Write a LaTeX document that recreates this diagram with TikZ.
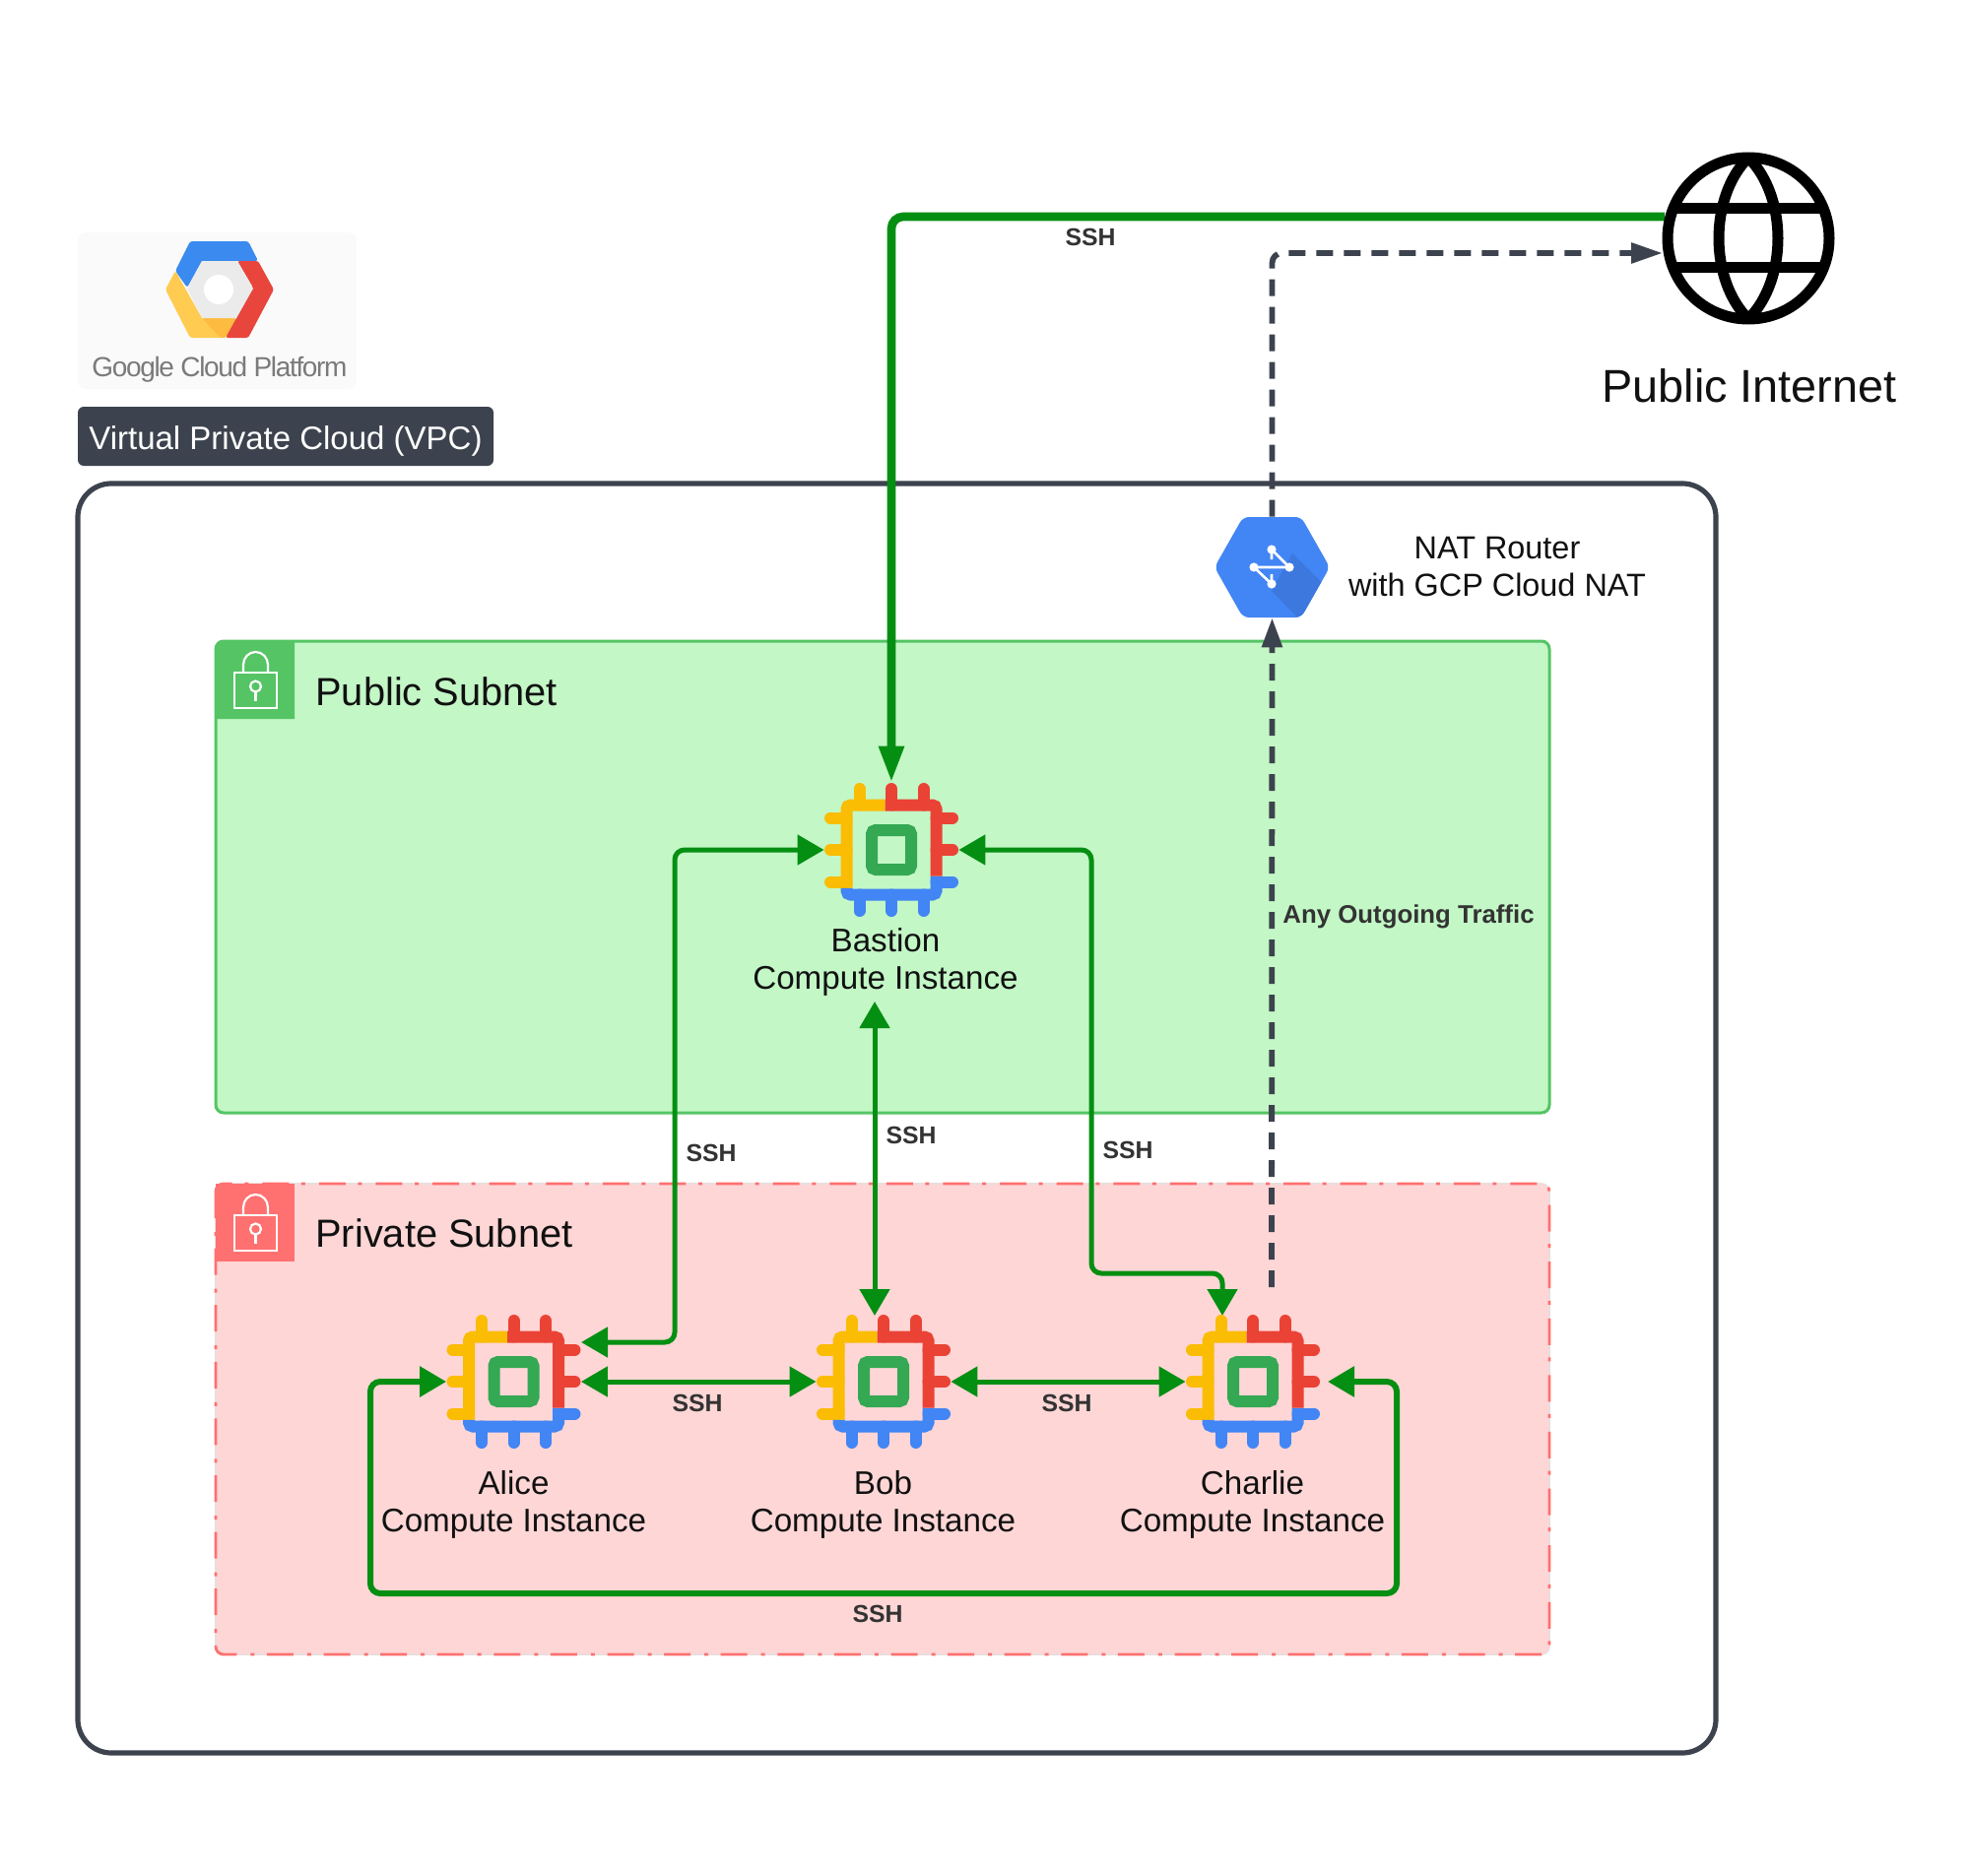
\documentclass[tikz,border=0pt]{standalone}
\usepackage{fontspec}
\setmainfont{Liberation Sans}
\usetikzlibrary{arrows.meta,calc}
\definecolor{sshgreen}{HTML}{048F12}
\definecolor{slate}{HTML}{3D434E}
\definecolor{pubfill}{HTML}{C3F7C6}
\definecolor{publine}{HTML}{55C465}
\definecolor{privfill}{HTML}{FFD6D6}
\definecolor{privline}{HTML}{FF7070}
\definecolor{privgap}{HTML}{EBDCDC}
\definecolor{cy}{HTML}{FBBC04}
\definecolor{cr}{HTML}{EA4335}
\definecolor{cb}{HTML}{4285F4}
\definecolor{cg}{HTML}{34A853}
\definecolor{ink}{HTML}{111111}
\definecolor{lab}{HTML}{333333}
\definecolor{lgblue}{HTML}{3B8AF0}
\definecolor{lgyellow}{HTML}{FFCB50}
\definecolor{lgshade}{HTML}{FDBB40}
\definecolor{lgred}{HTML}{E8453C}
\definecolor{natshade}{HTML}{3C78DE}
\tikzset{
  x=0.5pt,y=-0.5pt,
  vpcbox/.style={draw=slate,line width=2.6pt,rounded corners=17pt,fill=white},
  pubbox/.style={draw=publine,line width=1.5pt,rounded corners=4pt,fill=pubfill},
  privbase/.style={draw=privgap,line width=0.8pt,rounded corners=4pt,fill=privfill},
  privbox/.style={draw=privline,line width=1.4pt,rounded corners=4pt,dash pattern=on 13.5pt off 7pt on 2pt off 6.3pt},
  chipnode/.style={inner sep=0pt,minimum size=68pt,draw=none},
  txt/.style={inner sep=0pt,text=ink,align=center,font=\fontsize{16.6}{19}\selectfont},
  head/.style={inner sep=0pt,text=ink,anchor=west,font=\fontsize{19.9}{24}\selectfont},
  ssh/.style={inner sep=0pt,text=lab,font=\fontsize{12.4}{15}\selectfont\bfseries},
  link/.style={draw=sshgreen,line width=2.5pt,rounded corners=5pt,line join=round,
    {Triangle[length=13.5pt,width=15pt]}-{Triangle[length=13.5pt,width=15pt]}},
  trunk/.style={draw=sshgreen,line width=4.3pt,rounded corners=6pt,-{Triangle[length=18.5pt,width=12pt]}},
  loopl/.style={link,line width=3pt},
  outgoing/.style={draw=slate,line width=2.9pt,rounded corners=5pt,dash pattern=on 8.5pt off 5.5pt,
    -{Triangle[length=15pt,width=10pt]}},
  pin/.style={line width=6pt,line cap=round},
  band/.style={line width=6pt,rounded corners=2pt},
  lockline/.style={draw=white,line width=1.1pt},
}
\newcommand{\chipicon}[2]{%
 \begin{scope}[shift={(#1,#2)}]
  \draw[pin,cy] (-32.5,-45.5)--(-32.5,-62) (-45.5,-32.5)--(-62,-32.5) (-45.5,0)--(-62,0) (-45.5,32.5)--(-62,32.5);
  \draw[pin,cr] (0,-45.5)--(0,-62) (32.5,-45.5)--(32.5,-62) (45.5,-32.5)--(62,-32.5) (45.5,0)--(62,0);
  \draw[pin,cb] (45.5,32.5)--(62,32.5) (-32.5,45.5)--(-32.5,62) (0,45.5)--(0,62) (32.5,45.5)--(32.5,62);
  \draw[band,cb] (45.5,26.5)--(45.5,45.5)--(-45.5,45.5)--(-45.5,38.5);
  \draw[band,cy] (-6.5,-45.5)--(-45.5,-45.5)--(-45.5,38.5);
  \draw[band,cr] (-6.5,-45.5)--(45.5,-45.5)--(45.5,26.5);
  \draw[band,cg] (-20,-20) rectangle (20,20);
 \end{scope}}
\newcommand{\lockicon}[1]{%
 \begin{scope}[shift={(0,#1)}]
  \draw[lockline] (238,683) rectangle (281,719);
  \draw[lockline] (247,683)--(247,675) arc[start angle=180,end angle=0,x radius=12.5,y radius=-13]--(272,683);
  \draw[lockline] (259.5,697) circle[radius=5.5];
  \draw[lockline] (259.5,702.5)--(259.5,712);
 \end{scope}}
\begin{document}
\begin{tikzpicture}
\useasboundingbox[fill=white] (0,0) rectangle (1999,1905);
% logo
\fill[black!2,rounded corners=4pt] (79,236) rectangle (362,395);
\begin{scope}[rounded corners=1.2pt]
\fill[lgblue] (193,245)--(252,245)--(262,265)--(205,265)--(190,292)--(178,275)--cycle;
\fill[lgyellow] (178,275)--(205,323)--(240,323)--(229,343)--(193,343)--(168,294)--cycle;
\fill[lgshade] (205,323)--(240,323)--(229,343)--(224,343)--cycle;
\fill[lgred] (241,265)--(262,265)--(278,294)--(252,343)--(229,343)--(257,292)--cycle;
\end{scope}
\fill[black!8] (205,265)--(241,265)--(257,293)--(240,323)--(205,323)--(190,293)--cycle;
\fill[white] (222,294) circle[radius=15];
\node[inner sep=0pt,text=black!52,font=\fontsize{14}{16}\selectfont\addfontfeature{LetterSpace=-4.8}] (logotext) at (223,375) {Google Cloud Platform};
% tag
\node[inner sep=0pt,minimum width=211pt,minimum height=30pt,fill=slate,rounded corners=3pt,text=white,font=\fontsize{16.5}{19}\selectfont] (vpctag) at (290,443) {\raisebox{-6.7pt}[0pt][0pt]{Virtual Private Cloud (VPC)}};
% boxes
\draw[vpcbox] (79,491) rectangle (1742,1780);
\draw[pubbox] (219,651) rectangle (1573,1130);
\fill[publine] (219,730) [rounded corners=3pt] -- (219,651) [sharp corners] -- (299,651) -- (299,730) -- cycle;
\draw[privbase] (219,1202) rectangle (1573,1680);
\draw[privbox] (219,1202) rectangle (1573,1680);
\fill[privline] (219,1202) rectangle (299,1281);
\lockicon{0}
\lockicon{551}
\node[head] (pubtitle) at (320,702) {Public Subnet};
\node[head] (privtitle) at (320,1252.5) {Private Subnet};
% icon holders
\node[chipnode] (bastion) at (905,863) {};
\node[chipnode] (alice) at (521.5,1403) {};
\node[chipnode] (bob) at (897,1403) {};
\node[chipnode] (charlie) at (1272,1403) {};
\node[inner sep=0pt,minimum width=56.5pt,minimum height=51pt] (nat) at (1291.5,576) {};
\node[inner sep=0pt,minimum size=87.5pt,circle] (globe) at (1775,242) {};
\coordinate (gOut) at (1690,220);
\coordinate (gIn) at (1688,257);
\coordinate (cOut) at (1291,1307);
\coordinate (aIn) at (590,1363);
\coordinate (lTurn) at (685,1363);
\coordinate (rA) at (1108,863);
\coordinate (rB) at (1108,1293);
\coordinate (cIn) at (1241,1293);
\coordinate (cTop) at (1241,1336);
\coordinate (midT) at (888,1017);
\coordinate (midB) at (888,1336);
\coordinate (loopA) at (376,1403);
\coordinate (loopB) at (376,1618);
\coordinate (loopC) at (1418,1618);
\coordinate (loopD) at (1418,1403);
\coordinate (charlieR) at (1348,1403);
% connectors
\draw[outgoing] (cOut) -- (nat.south);
\draw[outgoing,-{Triangle[length=16pt,width=10pt]}] (nat.north) |- (gIn);
\draw[trunk] (gOut) -| (bastion.north);
\draw[link] (aIn) -- (lTurn) |- (bastion.west);
\draw[link] (bastion.east) -- (rA) -- (rB) -- (cIn) -- (cTop);
\draw[link] (midT) -- (midB);
\draw[link] (alice.east) -- (bob.west);
\draw[link] (bob.east) -- (charlie.west);
\draw[loopl] (alice.west) -- (loopA) -- (loopB) -- (loopC) -- (loopD) -- (charlieR);
% chips
\chipicon{905}{863}
\chipicon{521.5}{1403}
\chipicon{897}{1403}
\chipicon{1272}{1403}
% NAT hexagon
\begin{scope}
 \path[clip,rounded corners=3pt] (1262,525)--(1321,525)--(1350,576)--(1321,627)--(1262,627)--(1233,576)--cycle;
 \fill[cb] (1230,520) rectangle (1352,632);
 \fill[natshade] (1312,562)--(1352,602)--(1352,632)--(1322,632)--(1291,600)--cycle;
\end{scope}
\draw[white,line width=1.3pt] (1291,558)--(1309,576)--(1273,576)--(1291,593) (1291,558)--(1291,568) (1291,593)--(1291,583);
\fill[white] (1291,558) circle[radius=4.6] (1309,576) circle[radius=4.6] (1273,576) circle[radius=4.6] (1291,593) circle[radius=4.6];
% globe
\begin{scope}[black,line width=5.5pt]
 \draw (1775,242) circle[radius=82];
 \draw (1699,212)--(1851,212) (1699,271)--(1851,271);
 \draw (1775,160) .. controls (1735,200) and (1735,284) .. (1775,324);
 \draw (1775,160) .. controls (1815,200) and (1815,284) .. (1775,324);
\end{scope}
% text
\node[inner sep=0pt,text=ink,font=\fontsize{23.4}{28}\selectfont] (internet) at (1776,392) {Public Internet};
\node[txt,font=\fontsize{16.2}{19}\selectfont] (nattext) at (1520,576) {NAT Router\\with GCP Cloud NAT};
\node[txt] (bastiontext) at (899,976.5) {Bastion\\Compute Instance};
\node[txt] (alicetext) at (521.5,1527.5) {Alice\\Compute Instance};
\node[txt] (bobtext) at (896.5,1527.5) {Bob\\Compute Instance};
\node[txt] (charlietext) at (1271.5,1527.5) {Charlie\\Compute Instance};
\node[ssh] (s1) at (1107,241) {SSH};
\node[ssh] (s2) at (722,1171) {SSH};
\node[ssh] (s3) at (925,1153) {SSH};
\node[ssh] (s4) at (1145,1168) {SSH};
\node[ssh] (s5) at (708,1425) {SSH};
\node[ssh] (s6) at (1083,1425) {SSH};
\node[ssh] (s7) at (891,1639) {SSH};
\node[ssh,font=\fontsize{12.9}{15}\selectfont\bfseries] (s8) at (1430,931) {Any Outgoing Traffic};
\end{tikzpicture}
\end{document}
